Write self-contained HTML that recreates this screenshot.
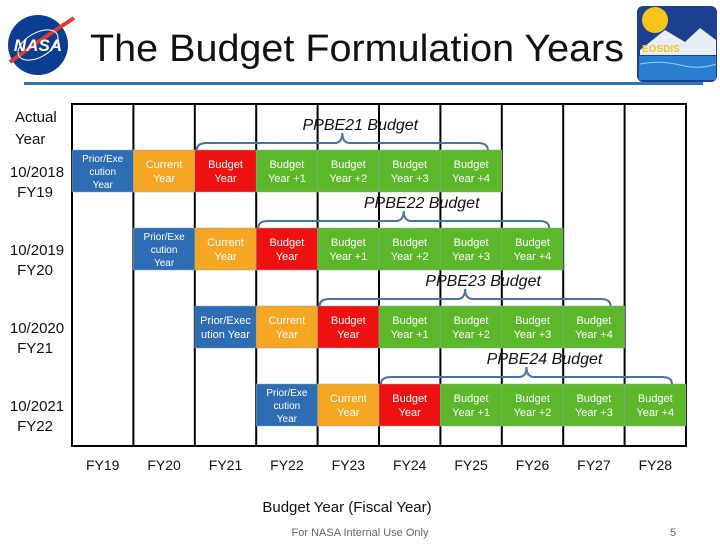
<!DOCTYPE html>
<html><head><meta charset="utf-8">
<style>
html,body{margin:0;padding:0;background:#fff;}
body{width:720px;height:540px;overflow:hidden;font-family:"Liberation Sans",sans-serif;}
svg text{font-family:"Liberation Sans",sans-serif;}
</style></head>
<body>
<svg id="chart" width="720" height="540" viewBox="0 0 720 540" xmlns="http://www.w3.org/2000/svg">
  <g>
    <circle cx="38" cy="45" r="30" fill="#0b3d91"/>
    <path d="M10 62 Q40 40 74 18" stroke="#e03a2f" stroke-width="4" fill="none"/>
    <ellipse cx="38" cy="45" rx="22" ry="12" fill="none" stroke="#fff" stroke-width="1" transform="rotate(-30 38 45)"/>
    <text x="38" y="51" text-anchor="middle" font-size="17" font-weight="bold" fill="#fff" font-style="italic">NASA</text>
  </g>
  <text x="90" y="61" font-size="38" fill="#111" textLength="534" lengthAdjust="spacingAndGlyphs">The Budget Formulation Years</text>
  <g>
    <rect x="637" y="6" width="80" height="76" rx="6" fill="#1d3f8f"/>
    <circle cx="655" cy="20" r="13" fill="#f5c518"/>
    <path d="M640 50 L665 30 L685 42 L700 28 L716 40 L716 55 L640 55Z" fill="#e8eef5"/>
    <rect x="639" y="56" width="77" height="24" fill="#2a7fd0"/>
    <path d="M640 64 Q660 60 680 65 T716 64" stroke="#8fd0ff" fill="none"/>
    <text x="642" y="52" font-size="10" font-weight="bold" fill="#f5c518">EOSDIS</text>
  </g>
  <rect x="24" y="82" width="679" height="3" fill="#2e75b6"/>
  <g id="grid"></g>
  <g id="cells"></g>
  <g id="braces"></g>
  <text x="15" y="122" font-size="15" fill="#111">Actual</text>
  <text x="15" y="144" font-size="15" fill="#111">Year</text>
  <g id="rowlabels"></g>
  <g id="xlabels"></g>
  <text x="347" y="512" text-anchor="middle" font-size="15" fill="#111">Budget Year (Fiscal Year)</text>
  <text x="360" y="536" text-anchor="middle" font-size="11" fill="#666">For NASA Internal Use Only</text>
  <text x="673" y="536" text-anchor="middle" font-size="11" fill="#666">5</text>
</svg>
<script>
const fiscalYears = ["FY19","FY20","FY21","FY22","FY23","FY24","FY25","FY26","FY27","FY28"];
const rowDates = ["10/2018","10/2019","10/2020","10/2021"];
const rowFY = ["FY19","FY20","FY21","FY22"];
const rowStart = [0,1,2,3];
const budgetTitles = ["PPBE21 Budget","PPBE22 Budget","PPBE23 Budget","PPBE24 Budget"];
const cellLabels = [["Prior/Exe","cution","Year"],["Current","Year"],["Budget","Year"],["Budget","Year +1"],["Budget","Year +2"],["Budget","Year +3"],["Budget","Year +4"]];
const cellColors = ["#2e6db4","#f5a623","#ee1111","#5cb82a","#5cb82a","#5cb82a","#5cb82a"];

const NS="http://www.w3.org/2000/svg";
const colEdges=[72,686];
function colX(i){return colEdges[0]+(colEdges[1]-colEdges[0])*i/fiscalYears.length;}
function rowY(r){return 150+r*78;}
const rowH=42;
function mk(tag,attrs,parent){const e=document.createElementNS(NS,tag);for(const k in attrs)e.setAttribute(k,attrs[k]);parent.appendChild(e);return e;}

const grid=document.getElementById('grid');
const fr=mk('rect',{x:colX(0),y:104,width:colX(fiscalYears.length)-colX(0),height:342,fill:'none',stroke:'#000','stroke-width':2},grid);


for(let i=1;i<fiscalYears.length;i++){
  const l=mk('line',{x1:colX(i),x2:colX(i),y1:104,y2:446,stroke:'#000','stroke-width':2},grid);
  
  
}
const xl=document.getElementById('xlabels');
fiscalYears.forEach((fy,i)=>{
  const t=mk('text',{x:(colX(i)+colX(i+1))/2,y:470,'text-anchor':'middle','font-size':14,fill:'#111'},xl);
  t.textContent=fy;
  
  
});
const rl=document.getElementById('rowlabels');
rowDates.forEach((d,r)=>{
  const cy=rowY(r)+rowH/2;
  const a=mk('text',{x:37,y:cy+6,'text-anchor':'middle','font-size':15,fill:'#111'},rl);a.textContent=d;
  
  
  const b=mk('text',{x:35,y:cy+26,'text-anchor':'middle','font-size':15,fill:'#111'},rl);b.textContent=rowFY[r];
  
  
});
const cells=document.getElementById('cells');
const braces=document.getElementById('braces');
rowStart.forEach((s,r)=>{
  const y=rowY(r);
  cellLabels.forEach((lab,k)=>{
    const x0=colX(s+k), x1=colX(s+k+1);
    const g=mk('g',{},cells);
    
    
    mk('rect',{x:x0,y:y,width:x1-x0,height:rowH,fill:cellColors[k],stroke:'#8aa','stroke-width':0.5},g);
    let lines=lab;
    if(k===0 && r===2) lines=["Prior/Exec","ution Year"];
    const n=lines.length, lh=n===3?13:14;
    const fs=n===3?10:11;
    lines.forEach((ln,j)=>{
      const t=mk('text',{x:(x0+x1)/2,y:y+rowH/2+(j-(n-1)/2)*lh+4,'text-anchor':'middle','font-size':fs,fill:'#fff'},g);
      t.textContent=ln;
    });
  });
  const bx0=colX(s+2)+2, bx1=colX(s+7)-14, mid=(bx0+bx1)/2, top=y-7;
  const p=mk('path',{d:`M${bx0} ${y} Q${bx0} ${top} ${bx0+10} ${top} L${mid-8} ${top} Q${mid} ${top} ${mid} ${top-10} Q${mid} ${top} ${mid+8} ${top} L${bx1-10} ${top} Q${bx1} ${top} ${bx1} ${y}`,fill:'none',stroke:'#4a72a8','stroke-width':2},braces);
  
  
  const t=mk('text',{x:mid+18,y:top-13,'text-anchor':'middle','font-size':16,'font-style':'italic',fill:'#111'},braces);
  t.textContent=budgetTitles[r];
  
  
});
</script>
</body></html>
